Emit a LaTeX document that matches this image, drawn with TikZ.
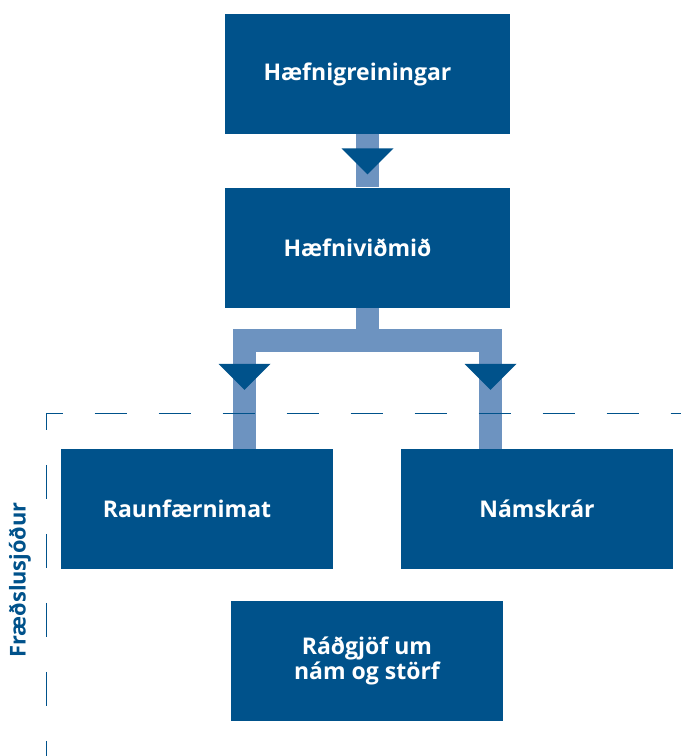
\documentclass[tikz,border=0pt]{standalone}
\usepackage{fontspec}
\setmainfont{Open Sans}
\usetikzlibrary{calc}
\definecolor{D0}{HTML}{00528B}
\definecolor{L0}{HTML}{6D93C0}

\tikzset{
  box/.style={fill=D0, text=white, minimum width=136pt, minimum height=60pt, inner sep=0pt, align=center, font=\fontsize{11.5}{11.5}\selectfont\bfseries},
  wide/.style={box, minimum width=142.5pt},
  leftish/.style={execute at end node={\hspace*{10pt}}},
  link/.style={draw=L0, line width=11.5pt, line join=miter},
  frame/.style={draw=D0, line width=0.75pt},
  downtip/.pic={\fill[D0] (-26,0) -- (26,0) -- (0,26) -- cycle;}
}

\begin{document}
\begin{tikzpicture}[x=0.5pt, y=-0.5pt]%
\useasboundingbox (0,0) rectangle (681,756);%
% boxes
\node[wide, leftish] (grein) at (367.5, 74) {Hæfnigreiningar};%
\node[wide, leftish] (vidmid) at (367.5, 247.5) {Hæfniviðmið};%
\node[box, leftish] (raun) at (197, 509) {Raunfærnimat};%
\node[box] (nam) at (537, 509) {Námskrár};%
\node[box] (rad) at (367, 661) {Ráðgjöf um\\nám og störf};%
% connectors
\draw[link] (grein.south) -- (vidmid.north);%
\pic at ($(grein.south)!0.5!(vidmid.north)+(0,-12.5)$) {downtip};%
\coordinate (forkL) at ($(vidmid.south)+(-123,32.5)$);%
\coordinate (forkR) at ($(vidmid.south)+(123,32.5)$);%
\draw[link] (vidmid.south) -- ($(vidmid.south)+(0,32.5)$);%
\draw[link] (forkL |- raun.north) -- (forkL) -- (forkR) -- (forkR |- nam.north);%
\pic at ($(forkL)+(0,23.5)$) {downtip};%
\pic at ($(forkR)+(0,23.5)$) {downtip};%
% frame
\coordinate (corner) at (46.5, 413.5);%
\draw[frame, dash pattern=on 16pt off 16pt, dash phase=8pt] (corner) -- (681, 413.5);%
\draw[frame, dash pattern=on 17pt off 17.5pt, dash phase=8.5pt] ($(corner)+(0,-0.75)$) -- (46.5, 756);%
\node[rotate=90, text=D0, font=\fontsize{10.9}{12}\selectfont\bfseries] (fond) at (20, 580) {Fræðslusjóður};%
\end{tikzpicture}
\end{document}
